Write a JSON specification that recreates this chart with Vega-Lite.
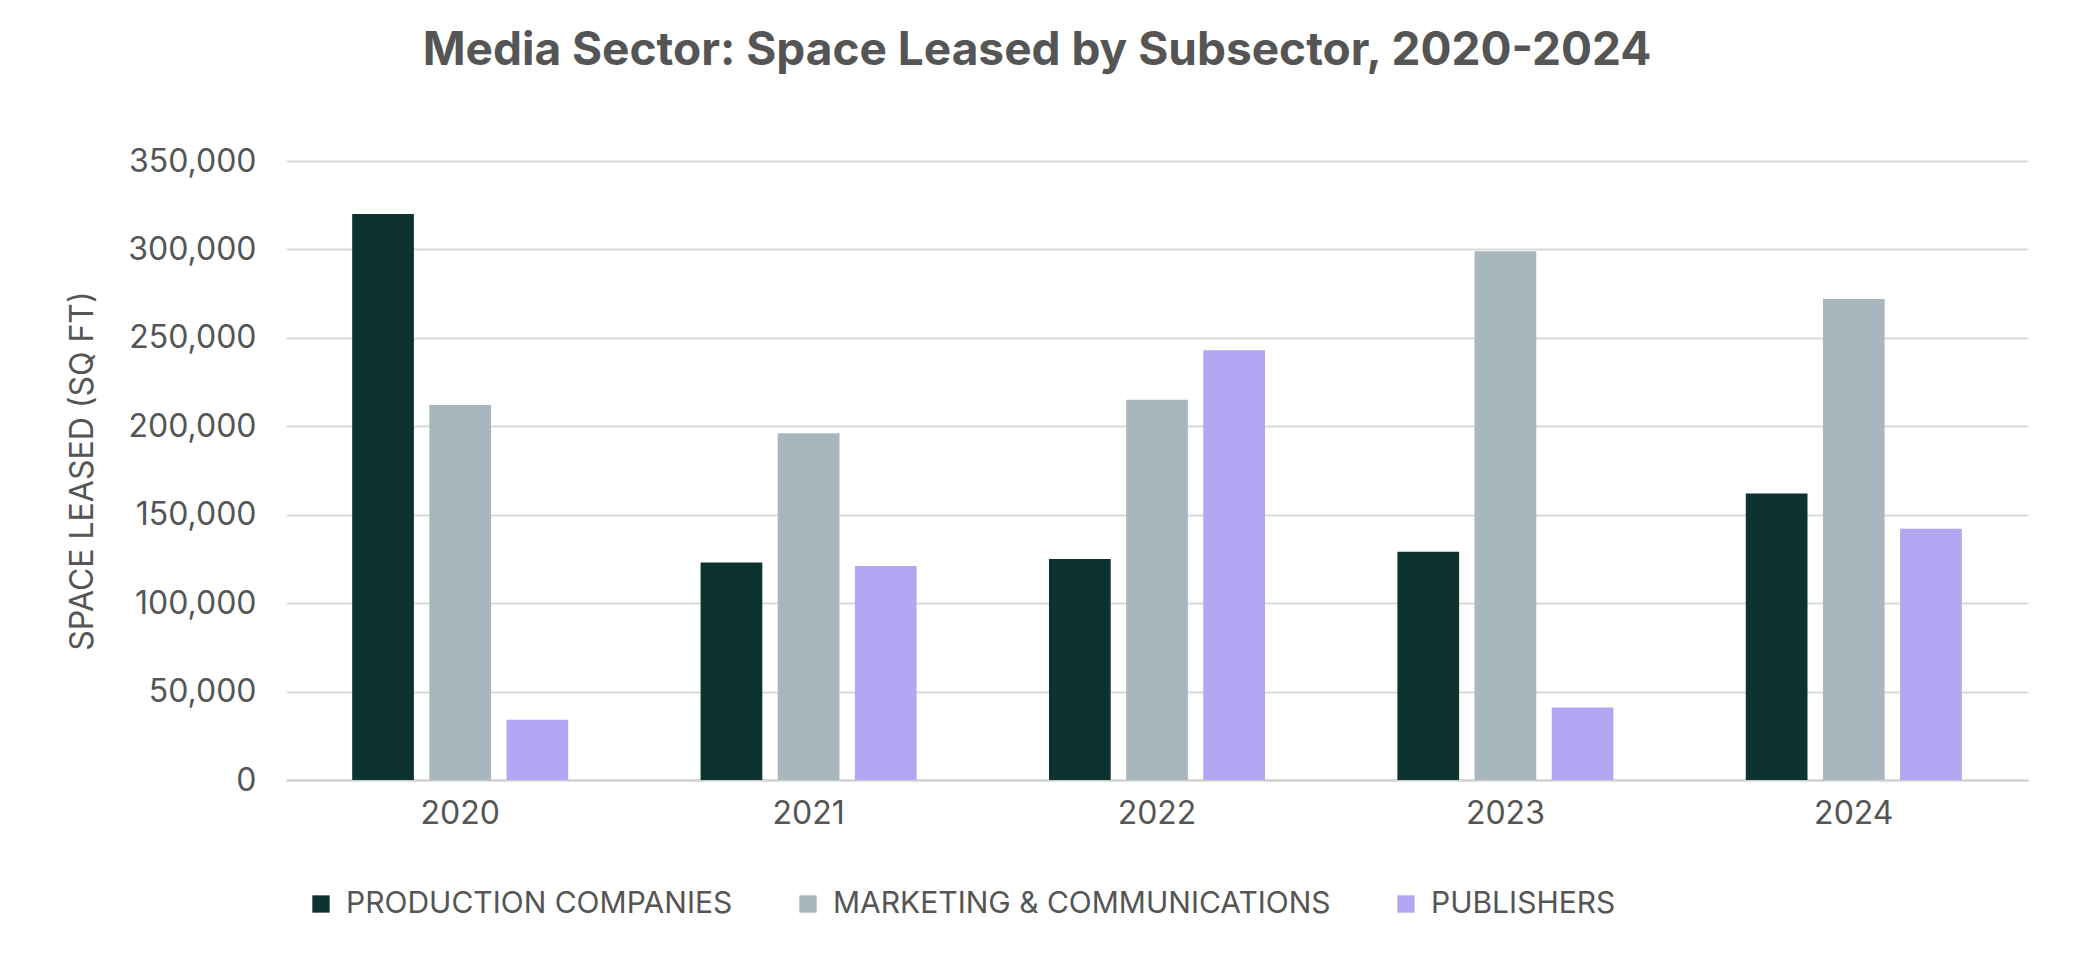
{
"$schema":"https://vega.github.io/schema/vega-lite/v6.json",
"width":1742,"height":619,
"autosize":{"type":"none"},
"padding":{"left":286,"top":161,"right":48,"bottom":191},
"background":"white",
"config":{"view":{"stroke":null}},
"title":{"text":"Media Sector: Space Leased by Subsector, 2020-2024","fontSize":46,"font":"Inter","fontWeight":"bold","color":"#555555","offset":70,"dx":-120,"anchor":"middle"},
"data":{"values":[
{"year":"2020","sub":"PRODUCTION COMPANIES","v":320000},
{"year":"2020","sub":"MARKETING & COMMUNICATIONS","v":212000},
{"year":"2020","sub":"PUBLISHERS","v":34000},
{"year":"2021","sub":"PRODUCTION COMPANIES","v":123000},
{"year":"2021","sub":"MARKETING & COMMUNICATIONS","v":196000},
{"year":"2021","sub":"PUBLISHERS","v":121000},
{"year":"2022","sub":"PRODUCTION COMPANIES","v":125000},
{"year":"2022","sub":"MARKETING & COMMUNICATIONS","v":215000},
{"year":"2022","sub":"PUBLISHERS","v":243000},
{"year":"2023","sub":"PRODUCTION COMPANIES","v":129000},
{"year":"2023","sub":"MARKETING & COMMUNICATIONS","v":299000},
{"year":"2023","sub":"PUBLISHERS","v":41000},
{"year":"2024","sub":"PRODUCTION COMPANIES","v":162000},
{"year":"2024","sub":"MARKETING & COMMUNICATIONS","v":272000},
{"year":"2024","sub":"PUBLISHERS","v":142000}
]},
"mark":{"type":"bar"},
"encoding":{
"x":{"field":"year","type":"nominal","title":null,"scale":{"paddingInner":0.38,"paddingOuter":0.19},
 "axis":{"labelAngle":0,"labelFontSize":32,"labelFont":"Inter","labelColor":"#555555","ticks":false,"domainColor":"#d0d0d0","domainWidth":2,"labelPadding":18}},
"xOffset":{"field":"sub","type":"nominal","sort":["PRODUCTION COMPANIES","MARKETING & COMMUNICATIONS","PUBLISHERS"],"scale":{"paddingInner":0.2}},
"y":{"field":"v","type":"quantitative","title":"SPACE LEASED (SQ FT)","scale":{"domain":[0,350000],"nice":false},
 "axis":{"values":[0,50000,100000,150000,200000,250000,300000,350000],"format":",.0f","formatType":"number","labelOverlap":false,"labelFontSize":32,"labelFont":"Inter","labelColor":"#555555","ticks":false,"domain":false,"gridColor":"#d9d9d9","gridWidth":2,"labelPadding":30,
 "titleFontSize":32,"titleFont":"Inter","titleFontWeight":"normal","titleColor":"#555555","titlePadding":28}},
"color":{"field":"sub","type":"nominal","sort":["PRODUCTION COMPANIES","MARKETING & COMMUNICATIONS","PUBLISHERS"],
 "scale":{"range":["#0d3330","#a8b6bd","#b3a6f3"]},
 "legend":{"title":null,"orient":"none","direction":"horizontal","legendX":20,"legendY":728,"symbolType":"square","symbolSize":300,"symbolStrokeWidth":0,"labelFontSize":30,"labelFont":"Inter","labelColor":"#555555","labelLimit":0,"columnPadding":60,"labelOffset":10}}
}
}
